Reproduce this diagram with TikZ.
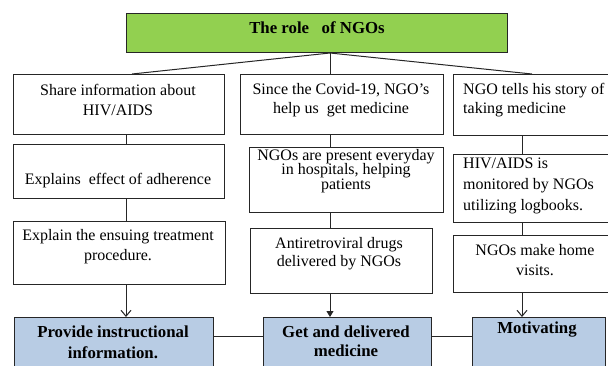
\documentclass[tikz,border=0pt]{standalone}
\usepackage{fontspec}
\setmainfont{Liberation Serif}
\usetikzlibrary{arrows.meta}
\definecolor{ngogreen}{HTML}{92D050}
\definecolor{roleblue}{HTML}{B8CCE4}
\definecolor{edge}{HTML}{262626}
% close line spacing for the three-line hospital box
\newcommand\tightlines{\setlength{\lineskiplimit}{-20pt}\setlength{\lineskip}{0pt}}

\begin{document}
\begin{tikzpicture}[x=1pt,y=-1pt,
  box/.style={draw=edge, line width=1pt, fill=white, inner sep=0pt, anchor=north west},
  titlebox/.style={box, fill=ngogreen},
  rolebox/.style={box, fill=roleblue},
  txt/.style={inner sep=0pt, font=\fontsize{16}{19.5}\selectfont, align=center},
  ltxt/.style={txt, align=left, anchor=west},
  btxt/.style={inner sep=0pt, font=\bfseries\fontsize{16.8}{21}\selectfont, align=center},
  link/.style={draw=edge, line width=1pt},
  openarrow/.style={link, -{Straight Barb[length=6pt,width=10pt,line width=1pt]}},
  fillarrow/.style={link, -{Triangle[length=6pt,width=7pt]}}
]
\useasboundingbox (0,0) rectangle (608,365);
\clip (0,0) rectangle (608,365);

% column positions of the vertical links
\coordinate (cx1) at (126,0);
\coordinate (cx2) at (330,0);
\coordinate (cx3) at (522,0);
\coordinate (tl) at (132,0);
\coordinate (tr) at (532,0);
\coordinate (hy) at (0,336);

% title
\node[titlebox, minimum width=381pt, minimum height=39pt] (T) at (126,13) {};
\node[btxt, font=\bfseries\fontsize{16.8}{19}\selectfont] (Tt) at (317,28) {The role\ \ \ of NGOs};

% first row
\node[box, minimum width=211pt, minimum height=60pt] (L1) at (13,74) {};
\node[box, minimum width=203pt, minimum height=60pt] (M1) at (240,74) {};
\node[box, minimum width=162pt, minimum height=61pt] (R1) at (453,74) {};
\node[txt] (L1t) at (118,100) {Share information about\\HIV/AIDS};
\node[txt] (M1t) at (341,100) {Since the Covid-19, NGO’s\\help us\ \ get medicine};
\node[ltxt] (R1t) at (463,100) {NGO tells his story of\\taking medicine};

% second row
\node[box, minimum width=211pt, minimum height=54pt] (L2) at (13,144) {};
\node[box, minimum width=194pt, minimum height=65pt] (M2) at (249,147) {};
\node[box, minimum width=162pt, minimum height=68pt] (R2) at (453,154) {};
\node[txt] (L2t) at (118,181) {Explains\ \ effect of adherence};
\node[txt, font=\fontsize{16}{14.5}\selectfont\tightlines] (M2t) at (346,171) {NGOs are present everyday\\in hospitals, helping\\patients};
\node[ltxt, font=\fontsize{16}{21}\selectfont] (R2t) at (463,186) {HIV/AIDS is\\monitored by NGOs\\utilizing logbooks.};

% third row
\node[box, minimum width=212pt, minimum height=63pt] (L3) at (13,221) {};
\node[box, minimum width=182pt, minimum height=65pt] (M3) at (250,228) {};
\node[box, minimum width=162pt, minimum height=57pt] (R3) at (453,235) {};
\node[txt, font=\fontsize{16}{20}\selectfont] (L3t) at (118,247) {Explain the ensuing treatment\\procedure.};
\node[txt, font=\fontsize{16}{18}\selectfont] (M3t) at (339,254) {Antiretroviral drugs\\delivered by NGOs};
\node[txt, font=\fontsize{16}{20}\selectfont] (R3t) at (535,260) {NGOs make home\\visits.};

% roles
\node[rolebox, minimum width=199pt, minimum height=63pt] (B1) at (14,317) {};
\node[rolebox, minimum width=168pt, minimum height=63pt] (B2) at (263,317) {};
\node[rolebox, minimum width=133pt, minimum height=63pt] (B3) at (472,317) {};
\node[btxt] (B1t) at (113,342) {Provide instructional\\information.};
\node[btxt, font=\bfseries\fontsize{16.8}{19}\selectfont] (B2t) at (346,341) {Get and delivered\\medicine};
\node[btxt] (B3t) at (537,330) {Motivating};

% links from the title
\draw[link] (T.south -| cx2) -- (L1.north -| tl);
\draw[link] (T.south -| cx2) -- (M1.north -| cx2);
\draw[link] (T.south -| cx2) -- (R1.north -| tr);

% links down each column
\draw[link] (L1.south -| cx1) -- (L2.north -| cx1);
\draw[link] (L2.south -| cx1) -- (L3.north -| cx1);
\draw[link] (M1.south -| cx2) -- (M2.north -| cx2);
\draw[link] (M2.south -| cx2) -- (M3.north -| cx2);
\draw[link] (R1.south -| cx3) -- (R2.north -| cx3);
\draw[link] (R2.south -| cx3) -- (R3.north -| cx3);

% arrows into the roles
\draw[openarrow] (L3.south -| cx1) -- (B1.north -| cx1);
\draw[fillarrow] (M3.south -| cx2) -- (B2.north -| cx2);
\draw[openarrow] (R3.south -| cx3) -- (B3.north -| cx3);

% links between the roles
\draw[link] (B1.east |- hy) -- (B2.west |- hy);
\draw[link] (B2.east |- hy) -- (B3.west |- hy);
\end{tikzpicture}
\end{document}
